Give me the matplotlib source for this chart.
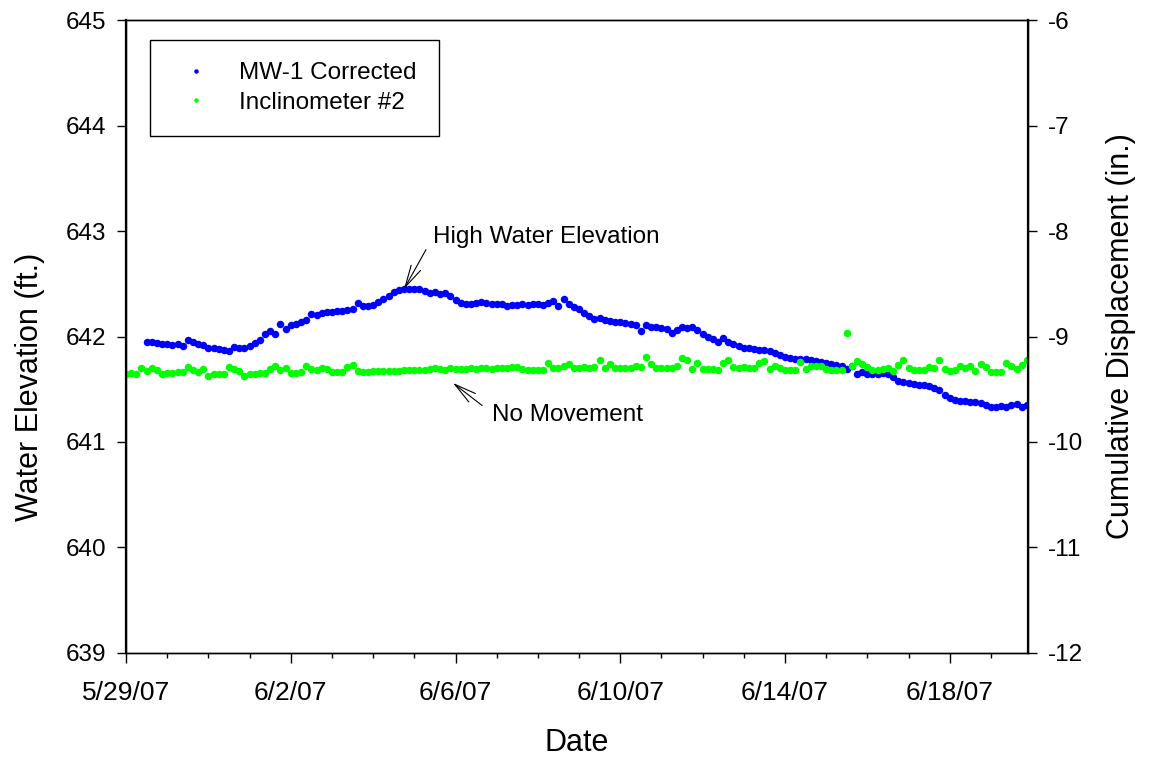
import matplotlib
matplotlib.use("Agg")
import matplotlib.pyplot as plt
import matplotlib.dates as mdates
from matplotlib.ticker import FuncFormatter, MultipleLocator
import pandas as pd

plt.rcParams['font.family'] = ['Liberation Sans', 'DejaVu Sans']
plt.rcParams['axes.unicode_minus'] = False

# MW-1 corrected water elevation (ft.), 3-hour readings from 5/29/07 12:00
mw1_start = '2007-05-29 12:00'
mw1_elev = [
    641.95, 641.95, 641.94, 641.93,
    641.93, 641.92, 641.93, 641.91, 641.97, 641.95, 641.93, 641.92,
    641.89, 641.89, 641.88, 641.87, 641.86, 641.90, 641.89, 641.89,
    641.91, 641.94, 641.97, 642.02, 642.05, 642.02, 642.12, 642.07,
    642.11, 642.12, 642.14, 642.16, 642.21, 642.20, 642.22, 642.23,
    642.23, 642.24, 642.24, 642.25, 642.26, 642.32, 642.29, 642.29,
    642.30, 642.33, 642.36, 642.38, 642.42, 642.44, 642.45, 642.45,
    642.45, 642.45, 642.43, 642.41, 642.42, 642.40, 642.41, 642.38,
    642.35, 642.32, 642.31, 642.31, 642.32, 642.33, 642.32, 642.31,
    642.31, 642.31, 642.29, 642.30, 642.30, 642.31, 642.30, 642.31,
    642.31, 642.30, 642.32, 642.34, 642.29, 642.36, 642.31, 642.28,
    642.26, 642.22, 642.19, 642.17, 642.18, 642.16, 642.15, 642.14,
    642.14, 642.13, 642.12, 642.11, 642.05, 642.11, 642.09, 642.09,
    642.08, 642.07, 642.03, 642.06, 642.09, 642.08, 642.09, 642.06,
    642.02, 642.00, 641.98, 641.95, 641.99, 641.95, 641.93, 641.91,
    641.89, 641.89, 641.88, 641.87, 641.87, 641.86, 641.84, 641.82,
    641.81, 641.80, 641.79, 641.79, 641.79, 641.78, 641.77, 641.76,
    641.75, 641.74, 641.73, 641.72, 641.69, 641.72, 641.64, 641.66,
    641.64, 641.64, 641.64, 641.65, 641.64, 641.62, 641.58, 641.57,
    641.56, 641.55, 641.54, 641.54, 641.53, 641.51, 641.49, 641.45,
    641.42, 641.40, 641.39, 641.39, 641.38, 641.38, 641.37, 641.35,
    641.33, 641.33, 641.34, 641.33, 641.35, 641.36, 641.33, 641.35,
]

# Inclinometer #2 cumulative displacement (in.), 3-hour readings from 5/29/07 00:00
inc_start = '2007-05-29 00:00'
inc_disp = [
    -9.36, -9.35, -9.36, -9.30, -9.33, -9.30, -9.32, -9.36,
    -9.35, -9.35, -9.34, -9.34, -9.29, -9.32, -9.34, -9.31,
    -9.37, -9.36, -9.36, -9.36, -9.29, -9.31, -9.33, -9.37,
    -9.36, -9.36, -9.35, -9.35, -9.31, -9.28, -9.32, -9.30,
    -9.35, -9.35, -9.34, -9.28, -9.31, -9.32, -9.30, -9.31,
    -9.34, -9.34, -9.34, -9.29, -9.27, -9.33, -9.34, -9.34,
    -9.33, -9.33, -9.33, -9.33, -9.33, -9.33, -9.32, -9.32,
    -9.32, -9.32, -9.32, -9.31, -9.30, -9.31, -9.32, -9.30,
    -9.31, -9.31, -9.31, -9.30, -9.31, -9.30, -9.30, -9.31,
    -9.30, -9.30, -9.30, -9.29, -9.29, -9.31, -9.32, -9.32,
    -9.32, -9.32, -9.25, -9.30, -9.30, -9.28, -9.26, -9.30,
    -9.30, -9.29, -9.30, -9.29, -9.22, -9.30, -9.26, -9.30,
    -9.30, -9.30, -9.30, -9.28, -9.29, -9.19, -9.26, -9.30,
    -9.30, -9.30, -9.30, -9.28, -9.20, -9.22, -9.31, -9.25,
    -9.31, -9.31, -9.31, -9.32, -9.25, -9.22, -9.29, -9.30,
    -9.29, -9.30, -9.30, -9.25, -9.23, -9.31, -9.28, -9.30,
    -9.32, -9.32, -9.32, -9.24, -9.31, -9.28, -9.28, -9.28,
    -9.31, -9.32, -9.32, -9.32, -8.97, -9.28, -9.23, -9.26,
    -9.29, -9.32, -9.32, -9.31, -9.30, -9.33, -9.27, -9.22,
    -9.30, -9.32, -9.32, -9.32, -9.29, -9.30, -9.22, -9.31,
    -9.33, -9.32, -9.28, -9.30, -9.28, -9.33, -9.26, -9.29,
    -9.34, -9.34, -9.34, -9.25, -9.28, -9.31, -9.27, -9.22,
]

x_start = pd.Timestamp('2007-05-29')
x_end = pd.Timestamp('2007-06-19 21:36')

mw1_time = pd.date_range(mw1_start, periods=len(mw1_elev), freq='3h')
inc_time = pd.date_range(inc_start, periods=len(inc_disp), freq='3h')

fig = plt.figure(figsize=(11.51, 7.59), dpi=100)
ax = fig.add_axes([0.1095, 0.1397, 0.7836, 0.8339])
ax2 = ax.twinx()

h1, = ax.plot(mw1_time, mw1_elev, 'o', color='#0000ff', ms=5.4, mew=0,
              label='MW-1 Corrected')
h2, = ax2.plot(inc_time, inc_disp, 'o', color='#00ff00', ms=5.4, mew=0,
               label='Inclinometer #2')

ax.set_xlim(x_start, x_end)
ax.set_ylim(639, 645)
ax2.set_ylim(-12, -6)
ax.yaxis.set_major_locator(MultipleLocator(1))
ax2.yaxis.set_major_locator(MultipleLocator(1))


def date_label(v, pos):
    d = mdates.num2date(v)
    return '{}/{}/{}'.format(d.month, d.day, d.strftime('%y'))


ax.xaxis.set_major_locator(mdates.DayLocator(bymonthday=[29, 2, 6, 10, 14, 18]))
ax.xaxis.set_minor_locator(mdates.DayLocator())
ax.xaxis.set_major_formatter(FuncFormatter(date_label))

for a in (ax, ax2):
    a.tick_params(axis='both', which='major', direction='out', length=6.5,
                  width=1, labelsize=17.5, pad=8)
    a.tick_params(axis='x', which='minor', direction='out', length=3.5, width=1)
    for s in a.spines.values():
        s.set_linewidth(1.0)
ax.spines['left'].set_linewidth(1.6)
ax2.spines['right'].set_linewidth(1.6)
ax.tick_params(axis='x', which='major', length=7.5, pad=13, labelsize=19)

ax.set_xlabel('Date', fontsize=22, labelpad=16)
ax.set_ylabel('Water Elevation (ft.)', fontsize=22)
ax.yaxis.set_label_coords(-0.09, 0.42)
ax2.set_ylabel('Cumulative Displacement (in.)', fontsize=22, labelpad=16)

# point out the crest and the flat inclinometer record
peak = pd.Series(mw1_elev, index=mw1_time).idxmax()
ax.annotate('High Water Elevation', xy=(peak, max(mw1_elev)),
            xytext=(pd.Timestamp('2007-06-05 10:48'), 642.94),
            fontsize=17.5, va='center', ha='left',
            arrowprops=dict(arrowstyle='->,head_length=0.9,head_width=0.22',
                            lw=0.8, color='black', relpos=(0, 0.5),
                            shrinkA=6, shrinkB=0))
ax2.annotate('No Movement', xy=(pd.Timestamp('2007-06-05 22:30'), -9.44),
             xytext=(pd.Timestamp('2007-06-06 21:00'), -9.744),
             fontsize=17.5, va='center', ha='left',
             arrowprops=dict(arrowstyle='->,head_length=0.9,head_width=0.22',
                             lw=0.8, color='black', relpos=(0, 0.6),
                             shrinkA=6, shrinkB=0))

leg = ax2.legend(handles=[h1, h2], loc='upper left',
                 bbox_to_anchor=(0.0266, 0.968), borderaxespad=0,
                 fontsize=17.5, frameon=True, fancybox=False, framealpha=1,
                 edgecolor='black', markerscale=0.6, handlelength=2.0,
                 handletextpad=0.77, borderpad=0.9, labelspacing=0.32)
leg.get_frame().set_linewidth(1.0)

fig.savefig('out.png', dpi=100)
